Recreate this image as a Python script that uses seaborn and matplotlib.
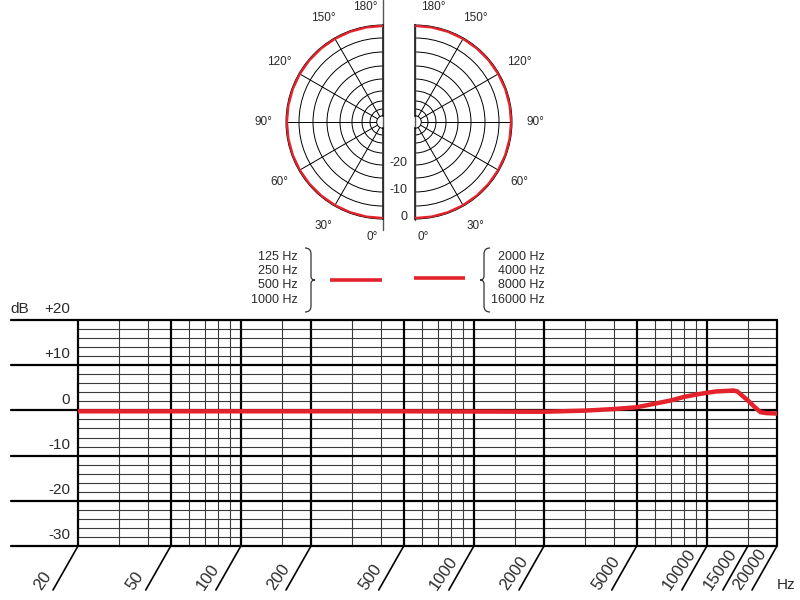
import numpy as np
import matplotlib
matplotlib.use("Agg")
import matplotlib.pyplot as plt
from matplotlib.path import Path
from matplotlib.patches import PathPatch
import seaborn as sns

# polar pattern (dB), read every 10 degrees; omni for both frequency groups
polar_angles = [0, 10, 20, 30, 40, 50, 60, 70, 80, 90, 100, 110, 120, 130, 140, 150, 160, 170, 180]
polar_low = [0, 0, 0, 0, 0, 0, 0, 0, 0, 0, 0, 0, 0, 0, 0, 0, 0, 0, 0]
polar_high = [0, 0, 0, 0, 0, 0, 0, 0, 0, 0, 0, 0, 0, 0, 0, 0, 0, 0, 0]

angle_labels = [0, 30, 60, 90, 120, 150, 180]
ring_levels = [-35, -30, -25, -20, -15, -10, -5]
ring_labels = [0, -10, -20]

low_bands = ["125 Hz", "250 Hz", "500 Hz", "1000 Hz"]
high_bands = ["2000 Hz", "4000 Hz", "8000 Hz", "16000 Hz"]

# frequency response
freq = [20, 100, 500, 1000, 2000, 3000, 4000, 5000, 6000, 7000, 8000, 9000,
        10000, 11000, 12000, 13000, 13500, 15000, 16000, 17000, 18000, 20000]
response = [-0.2, -0.2, -0.2, -0.25, -0.3, -0.05, 0.3, 0.7, 1.5, 2.2, 3.0, 3.5,
            3.9, 4.2, 4.3, 4.4, 4.2, 2.2, 0.8, -0.4, -0.6, -0.7]

freq_ticks = [20, 50, 100, 200, 500, 1000, 2000, 5000, 10000, 15000, 20000]
freq_major = [20, 50, 100, 200, 500, 1000, 2000, 5000, 10000, 20000]
freq_minor = [30, 40, 60, 70, 80, 90, 150, 300, 400, 600, 700, 800, 900,
              1500, 3000, 4000, 6000, 7000, 8000, 9000, 15000]
db_major = [20, 10, 0, -10, -20, -30]
db_labels = ["+20", "+10", "0", "-10", "-20", "-30"]
db_minor = [18, 16, 14, 12, 8, 6, 4, 2, -2, -4, -6, -8, -12, -14, -16, -18,
            -22, -24, -26, -28]

RED = "#e3222b"
TXT = "#2a2a2a"

sns.set_theme(style="white")
plt.rcParams["font.family"] = ["Liberation Sans", "DejaVu Sans"]

fig = plt.figure(figsize=(8, 6), dpi=100)

# ---- polar halves ----
# the chart's radial scale is compressed towards the centre
scale_db = [-45, -40, -35, -30, -25, -20, -15, -10, -5, 0, 20]
scale_px = [0, 6.3, 13, 21, 31, 43, 56, 70, 84, 97, 151]
RADIUS = 97


def fwd(v):
    return np.interp(v, scale_db, scale_px)


def inv(v):
    return np.interp(v, scale_px, scale_db)


def polar_half(cx, cy, direction, levels, line_top, line_bottom):
    # a half wedge sits in a square box of side 2R, shifted R/2 from its centre
    side = 2 * RADIUS
    bx = cx + direction * RADIUS / 2 - side / 2
    rect = [bx / 800, (600 - cy - side / 2) / 600, side / 800, side / 600]
    ax = fig.add_axes(rect, projection="polar")
    ax.set_theta_zero_location("S")
    ax.set_theta_direction(direction)
    ax.set_thetamin(0)
    ax.set_thetamax(180)
    ax.set_yscale("function", functions=(fwd, inv))
    sns.lineplot(x=np.deg2rad(polar_angles), y=levels, ax=ax, color=RED,
                 lw=3.0, sort=False, zorder=5)
    ax.set_rgrids(ring_levels, labels=[""] * len(ring_levels))
    ax.set_thetagrids([30, 60, 90, 120, 150], labels=[""] * 5)
    ax.grid(True, color="black", lw=0.7)
    ax.spines["start"].set_visible(False)
    ax.spines["end"].set_visible(False)
    ax.spines["polar"].set_linewidth(0.7)
    ax.spines["polar"].set_color("black")
    ax.spines["inner"].set_linewidth(0.7)
    ax.spines["inner"].set_color("black")
    ax.plot([np.pi, np.pi], [line_top, -45], color="#555", lw=1.0, clip_on=False)
    ax.plot([0, 0], [-45, line_bottom], color="#555", lw=1.0, clip_on=False)
    ax.set_xlabel("")
    ax.set_ylabel("")
    ax.set_ylim(-40, 0)
    ax.set_rorigin(-45)
    for a in angle_labels:
        if a in (0, 180):
            r = inv(115)
            if direction == -1:
                dx = -11 if a == 0 else -18
            else:
                dx = 8 if a == 0 else 18
        else:
            r, dx = inv(120), 0
        ax.annotate(f"{a}°", xy=(np.deg2rad(a), r), xytext=(dx, 0),
                    textcoords="offset pixels", ha="center", va="center",
                    fontsize=8.5, color=TXT, annotation_clip=False)
    return ax


ax_l = polar_half(383, 122, -1, polar_low, inv(122), inv(108))
ax_r = polar_half(415, 122, 1, polar_high, 0.2, 0.2)

for lv in ring_labels:
    ax_l.annotate(str(lv), xy=(0, lv), xytext=(25, 2), textcoords="offset pixels",
                  ha="right", va="center", fontsize=9, color=TXT,
                  annotation_clip=False)

# ---- legend block ----
ov = fig.add_axes([0, 0, 1, 1])
ov.set_xlim(0, 800)
ov.set_ylim(600, 0)
ov.axis("off")
ov.patch.set_visible(False)

band_y = [257, 271, 285, 300]
for y, t in zip(band_y, low_bands):
    ov.text(298, y, t, ha="right", va="center", fontsize=9, color=TXT)
for y, t in zip(band_y, high_bands):
    ov.text(545, y, t, ha="right", va="center", fontsize=9, color=TXT)
ov.plot([330, 382], [280, 280], color=RED, lw=2.6, solid_capstyle="butt")
ov.plot([414, 465], [278, 278], color=RED, lw=2.6, solid_capstyle="butt")


def brace(xs, y0, y1, side):
    a, t = 6, 4
    ym = (y0 + y1) / 2
    verts = [(xs - side * a, y0), (xs, y0), (xs, y0 + a),
             (xs, ym - t), (xs, ym), (xs + side * t, ym),
             (xs, ym), (xs, ym + t),
             (xs, y1 - a), (xs, y1), (xs - side * a, y1)]
    codes = [Path.MOVETO, Path.CURVE3, Path.CURVE3,
             Path.LINETO, Path.CURVE3, Path.CURVE3,
             Path.CURVE3, Path.CURVE3,
             Path.LINETO, Path.CURVE3, Path.CURVE3]
    ov.add_patch(PathPatch(Path(verts, codes), fill=False, lw=0.9, color="#333"))


brace(311, 248, 312, 1)
brace(484, 248, 312, -1)

# ---- frequency response ----
ax = fig.add_axes([78 / 800, 54 / 600, 699 / 800, 226 / 600])
ax.set_xscale("log")
for f in freq_minor:
    ax.axvline(f, color="#3a3a3a", lw=0.8, zorder=1)
for f in freq_major:
    ax.axvline(f, color="black", lw=1.6, zorder=2, clip_on=False)
for d in db_minor:
    ax.axhline(d, color="#3a3a3a", lw=0.8, zorder=1)
for d in db_major:
    ax.plot([-0.096, 1], [d, d], transform=ax.get_yaxis_transform(),
            color="black", lw=1.6, clip_on=False, zorder=2)
sns.lineplot(x=freq, y=response, ax=ax, color=RED, lw=3.2, zorder=5)
ax.set_xlim(20, 20000)
ax.set_ylim(-30, 20)
ax.xaxis.set_major_locator(plt.NullLocator())
ax.xaxis.set_minor_locator(plt.NullLocator())
ax.yaxis.set_major_locator(plt.NullLocator())
ax.set_xlabel("")
ax.set_ylabel("")
for s in ax.spines.values():
    s.set_visible(False)

for d, t in zip(db_major, db_labels):
    ax.text(-0.0114, d + 2.4, t, transform=ax.get_yaxis_transform(),
            ha="right", va="center", fontsize=11, color=TXT)
ax.text(-0.083, 22.4, "dB", transform=ax.get_yaxis_transform(),
        ha="center", va="center", fontsize=11, color=TXT)

xt = ax.get_xaxis_transform()
for f in freq_ticks:
    ax.annotate("", xy=(f, 0), xycoords=xt, xytext=(-25, -44),
                textcoords="offset pixels", annotation_clip=False,
                arrowprops=dict(arrowstyle="-", color="black", lw=1.2,
                                shrinkA=0, shrinkB=0))
    ax.annotate(str(f), xy=(f, 0), xycoords=xt, xytext=(-37, -45),
                textcoords="offset pixels", rotation=55, rotation_mode="anchor",
                ha="left", va="baseline", fontsize=12, color=TXT,
                annotation_clip=False)
ax.text(1.013, -0.173, "Hz", transform=ax.transAxes, ha="center", va="center",
        fontsize=11, color=TXT)

fig.savefig("out.png", dpi=100)
